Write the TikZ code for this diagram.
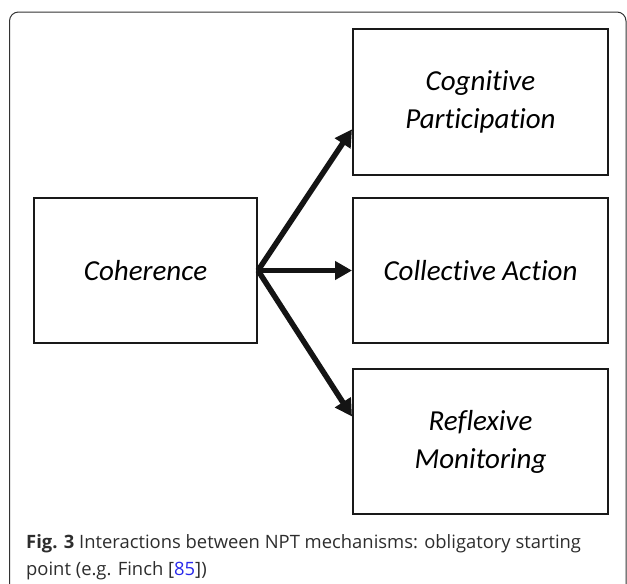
\documentclass[tikz,border=0pt]{standalone}
\usepackage{fontspec}
\setmainfont[Ligatures=NoCommon]{Carlito}
\newfontfamily\capfont{Open Sans}
\usetikzlibrary{arrows.meta}
\definecolor{linkblue}{RGB}{40,40,235}
\definecolor{capgray}{RGB}{45,45,45}
\begin{document}
\begin{tikzpicture}[x=1pt, y=-1pt, line join=miter, mech node/.style={rectangle,draw=black!90,line width=2pt,minimum width=255pt,minimum height=145pt,inner sep=0pt,align=center}, push/.style={-{Triangle[length=17pt,width=18pt]},line width=5.5pt,black!92}]%
\useasboundingbox (0,0) rectangle (627,584);
\draw[black!80, line width=1pt, rounded corners=9pt] (9.5,590) -- (9.5,12) -- (626,12) -- (626,590);
\begin{scope}[every node/.style={font=\fontsize{29}{38}\selectfont\itshape}]
\node[mech node, minimum width=223pt] (coh) at (145.5,270.5) {Coherence};
\node[mech node, minimum height=146pt] (cp) at (480.5,102) {Cognitive\\Participation};
\node[mech node] (ca) at (480.5,270.5) {Collective Action};
\node[mech node] (rm) at (480.5,441.5) {Reflexive\\Monitoring};
%\node[mech node] () at (,) {};
\end{scope}
\begin{scope}
\draw[push] (coh.east) -- (cp.192);
\draw[push] (coh.east) -- (ca.west);
\draw[push] (coh.east) -- (rm.169);
\end{scope}
\begin{scope}[every node/.style={font=\capfont\fontsize{18.4}{27}\selectfont, text=capgray, anchor=base west, inner sep=0pt}]
\node (capA) at (26,548) {\textbf{Fig. 3} Interactions between NPT mechanisms: obligatory starting};
\node (capB) at (26,575) {point (e.g. Finch [\textcolor{linkblue}{85}])};
\end{scope}
\end{tikzpicture}
\end{document}
